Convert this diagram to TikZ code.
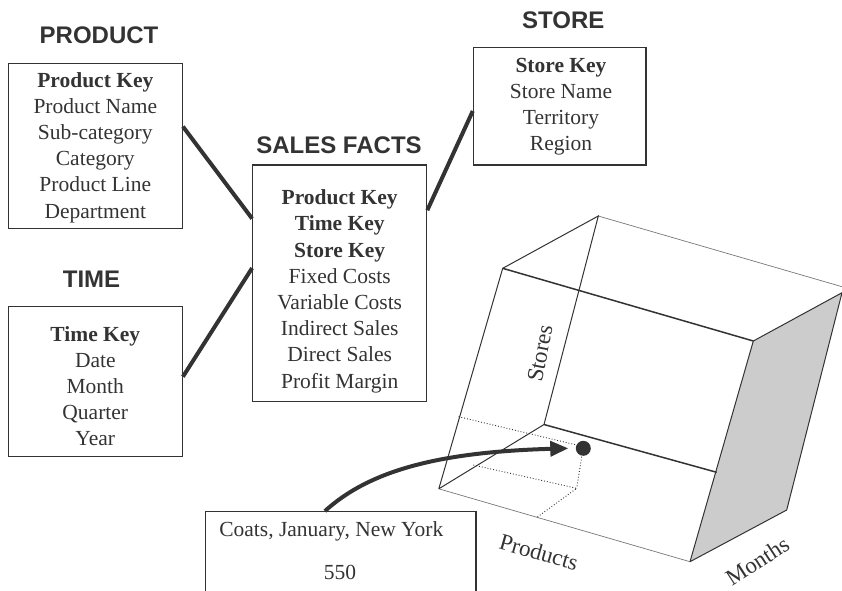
\documentclass[tikz,border=0pt]{standalone}
\usepackage{fontspec}
\setmainfont{Liberation Serif}
\setsansfont{Liberation Sans}
\usetikzlibrary{arrows.meta,calc}
\definecolor{ink}{HTML}{333333}
\definecolor{facegray}{HTML}{CCCCCC}
\definecolor{faintgray}{HTML}{777777}
\begin{document}
\begin{tikzpicture}[x=1pt,y=-1pt,
 box/.style={draw=ink,line width=1.2pt,inner sep=0pt},
 body/.style={text=ink,font=\fontsize{21.5}{26.2}\selectfont,align=center,inner sep=0pt},
 axislabel/.style={text=ink,font=\fontsize{23}{27}\selectfont,inner sep=0pt},
 head/.style={text=ink,font=\fontsize{24}{28}\selectfont\sffamily\bfseries,inner sep=0pt},
 link/.style={draw=ink,line width=4pt},
 cubeline/.style={draw=ink,line width=1pt},
 cubebold/.style={draw=ink,line width=1.5pt},
 faint/.style={draw=faintgray,line width=0.7pt},
 dots/.style={draw=ink,line width=0.9pt,dotted},
 pointer/.style={draw=ink,line width=4pt,-{Triangle[length=18pt,width=15pt]}}
]
\useasboundingbox (0,0) rectangle (842,590);

% headings
\node[head] (producthead) at (99,35.5) {PRODUCT};
\node[head] (timehead) at (91.5,279) {TIME};
\node[head] (saleshead) at (339,145.3) {SALES FACTS};
\node[head] (storehead) at (563.3,20) {STORE};

% boxes
\node[box,minimum width=174pt,minimum height=165pt] (product) at (95.3,145.8) {};
\node[body] (producttxt) at (95.3,147.5) {\textbf{Product Key}\\Product Name\\Sub-category\\Category\\Product Line\\Department};

\node[box,minimum width=174pt,minimum height=150pt] (time) at (95.3,381.7) {};
\node[body] (timetxt) at (95.3,386.2) {\textbf{Time Key}\\Date\\Month\\Quarter\\Year};

\node[box,minimum width=174pt,minimum height=236.7pt] (sales) at (339.7,283.3) {};
\node[body] (salestxt) at (339.7,291.2) {\textbf{Product Key}\\\textbf{Time Key}\\\textbf{Store Key}\\Fixed Costs\\Variable Costs\\Indirect Sales\\Direct Sales\\Profit Margin};

\node[box,minimum width=172.7pt,minimum height=117.3pt] (store) at (559.7,106.3) {};
\node[body] (storetxt) at (561,106.8) {\textbf{Store Key}\\Store Name\\Territory\\Region};

% connectors
\draw[link] ($(product.north east)!0.384!(product.south east)$) -- ($(sales.north west)!0.228!(sales.south west)$);
\draw[link] ($(time.north east)!0.467!(time.south east)$) -- ($(sales.north west)!0.436!(sales.south west)$);
\draw[link] ($(sales.north east)!0.193!(sales.south east)$) -- ($(store.north west)!0.54!(store.south west)$);

% cube
\coordinate (v1) at (502.7,268.3);
\coordinate (v2) at (753.3,341);
\coordinate (v3) at (690,561.7);
\coordinate (v4) at (438.8,488.8);
\coordinate (v5) at (598.3,216);
\coordinate (v6) at (842,286.7);
\coordinate (v7) at (842,292.7);
\coordinate (v8) at (786.7,510);
\coordinate (v9) at (544,424.5);
\coordinate (v10) at (716.7,472.3);

\fill[facegray] (v2) -- (v7) -- (v8) -- (v3) -- cycle;
\draw[cubeline] (v2) -- (v7) -- (v8) -- (v3);
\draw[faint] (v4) -- (v3);
\draw[faint] (v5) -- (v6);
\draw[cubeline] (v4) -- (v1) -- (v5) -- (v9) -- (v4);
\draw[cubeline] (v2) -- (v3);
\draw[cubebold] (v1) -- (v2);
\draw[cubebold] (v9) -- (v10);

% dotted guides
\coordinate (d1) at (458.5,416.7);
\coordinate (d2) at (576.7,445);
\coordinate (d3) at (473.3,465);
\coordinate (d4) at (576.7,488.3);
\coordinate (d5) at (536.7,517.5);
\coordinate (d6) at (581.7,456.7);
\draw[dots] (d1) -- (d2);
\draw[dots] (d3) -- (d4) -- (d5);
\draw[dots] (d6) -- (d4);

\node[circle,fill=ink,minimum size=15pt,inner sep=0pt] (cell) at (583.3,448.3) {};

% axis labels
\node[axislabel,rotate=79] (stores) at (540,353.3) {Stores};
\node[axislabel,rotate=-16] (products) at (539,552.3) {Products};
\node[axislabel,rotate=33] (months) at (757.3,561.2) {Months};

% callout
\node[box,minimum width=270.7pt,minimum height=88.3pt] (coats) at (340.65,555.85) {};
\node[body] (coatstxt) at (331.3,531.7) {Coats, January, New York};
\node[body] (value) at (340,572.7) {550};
\coordinate (tip) at (568.3,448.3);
\draw[pointer] ($(coats.north west)!0.442!(coats.north east)$) .. controls (370,470) and (440,452) .. (tip);
\end{tikzpicture}
\end{document}
